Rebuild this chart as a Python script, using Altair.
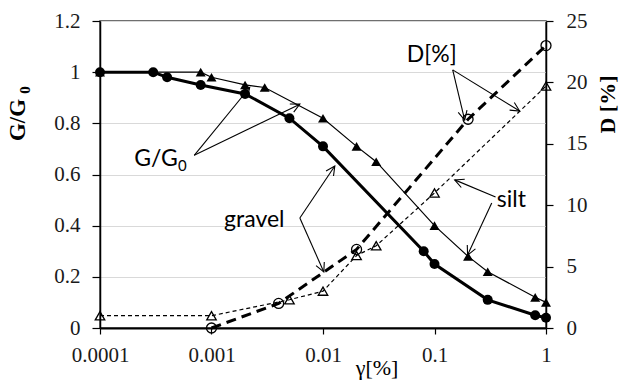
import altair as alt
import numpy as np
import pandas as pd

# ---------------- data ----------------
# G/G0 - gravel (filled circles, thick line)
gamma_gravel_G = [0.0001, 0.0003, 0.0004, 0.0008, 0.002, 0.005, 0.01, 0.08, 0.1, 0.3, 0.8, 1.0]
G_gravel = [1.0, 1.0, 0.98, 0.95, 0.915, 0.82, 0.71, 0.30, 0.25, 0.11, 0.05, 0.04]
# G/G0 - silt (filled triangles, thin line)
gamma_silt_G = [0.0001, 0.0008, 0.001, 0.002, 0.003, 0.01, 0.02, 0.03, 0.1, 0.2, 0.3, 0.8, 1.0]
G_silt = [1.0, 1.0, 0.98, 0.95, 0.94, 0.82, 0.71, 0.65, 0.40, 0.28, 0.22, 0.12, 0.10]
# D [%] - gravel (open circles, thick dashed)
gamma_gravel_D = [0.001, 0.004, 0.02, 0.2, 1.0]
D_gravel = [0.0, 2.0, 6.4, 17.0, 23.0]
# D [%] - silt (open triangles, thin dashed)
gamma_silt_D = [0.0001, 0.001, 0.005, 0.01, 0.02, 0.03, 0.1, 1.0]
D_silt = [1.0, 1.0, 2.3, 3.0, 5.9, 6.7, 11.0, 19.7]

x_ticks = [0.0001, 0.001, 0.01, 0.1, 1]
g_ticks = [0, 0.2, 0.4, 0.6, 0.8, 1.0, 1.2]
d_ticks = [0, 5, 10, 15, 20, 25]

# annotations (in gamma / G-scale units)
ann_text = ["G/G", "gravel", "silt", "D[%]"]
ann_x = [0.000318, 0.00242, 0.489, 0.0944]
ann_y = [0.633, 0.396, 0.474, 1.041]
sub_text = ["0"]
sub_x = [0.000549]
sub_y = [0.615]

arrow_x1 = [0.0007, 0.0007, 0.0062, 0.0062, 0.353, 0.326, 0.1456, 0.1456]
arrow_y1 = [0.675, 0.675, 0.43, 0.43, 0.512, 0.489, 1.009, 1.009]
arrow_x2 = [0.0022, 0.0062, 0.01276, 0.01017, 0.1518, 0.198, 0.1866, 0.58]
arrow_y2 = [0.94, 0.875, 0.633, 0.219, 0.579, 0.285, 0.813, 0.848]

# ---------------- layout ----------------
W, H = 446, 307
SERIF = "Liberation Serif"
SANS = "Lato"

x_scale = alt.Scale(type="log", domain=[0.0001, 1], nice=False)
g_scale = alt.Scale(domain=[0, 1.2], nice=False, zero=True)
d_scale = alt.Scale(domain=[0, 25], nice=False, zero=True)

X_AXIS = alt.Axis(values=x_ticks, format=".4~f", title=None, grid=False, labelFlush=False,
                  domainColor="black", domainWidth=2, tickColor="black", tickWidth=1.2,
                  tickSize=6, labelPadding=10, labelFont=SERIF, labelFontSize=21,
                  labelColor="#1a1a1a")
G_AXIS = alt.Axis(values=g_ticks, format=".1~f", title=None, grid=True,
                  gridColor="#d9d9d9", gridWidth=1.2,
                  domainColor="black", domainWidth=1.5, tickColor="black", tickWidth=1.2,
                  tickSize=8, labelPadding=12, labelFont=SERIF, labelFontSize=21,
                  labelColor="#1a1a1a")
D_AXIS = alt.Axis(orient="right", values=d_ticks, title=None, grid=False,
                  domainColor="black", domainWidth=1.5, tickColor="black", tickWidth=1.2,
                  tickSize=7, labelPadding=13, labelFont=SERIF, labelFontSize=21,
                  labelColor="#1a1a1a")

gG = pd.DataFrame({"gamma": gamma_gravel_G, "G": G_gravel})
sG = pd.DataFrame({"gamma": gamma_silt_G, "G": G_silt})
gD = pd.DataFrame({"gamma": gamma_gravel_D, "D": D_gravel})
sD = pd.DataFrame({"gamma": gamma_silt_D, "D": D_silt})

def gx():
    return alt.X("gamma:Q", scale=x_scale, axis=X_AXIS)

def gy():
    return alt.Y("G:Q", scale=g_scale, axis=G_AXIS)

def dy():
    return alt.Y("D:Q", scale=d_scale, axis=D_AXIS)

gravel_line = alt.Chart(gG).mark_line(color="black", strokeWidth=3).encode(x=gx(), y=gy())
silt_line = alt.Chart(sG).mark_line(color="black", strokeWidth=1.2).encode(x=gx(), y=gy())
gravel_pts = alt.Chart(gG).mark_point(shape="circle", filled=True, size=100, color="black",
                                      opacity=1).encode(x=gx(), y=gy())
silt_pts = alt.Chart(sG).mark_point(shape="triangle-up", filled=True, size=100, color="black",
                                    opacity=1).encode(x=gx(), y=gy())

arr = pd.DataFrame({"x1": arrow_x1, "y1": arrow_y1, "x2": arrow_x2, "y2": arrow_y2})
dxp = (np.log10(arr.x2) - np.log10(arr.x1)) / 4 * W
dyp = -(arr.y2 - arr.y1) / 1.2 * H
arr["ang"] = np.degrees(np.arctan2(dyp, dxp)) % 360

arrows = alt.Chart(arr).mark_rule(color="black", strokeWidth=1.1).encode(
    x=alt.X("x1:Q", scale=x_scale, axis=X_AXIS), x2="x2:Q",
    y=alt.Y("y1:Q", scale=g_scale, axis=G_AXIS), y2="y2:Q")
heads = alt.Chart(arr).mark_point(shape="M -1 -0.5 L 0 0 L -1 0.5", filled=False, size=324,
                                  strokeWidth=1.1, color="black", opacity=1).encode(
    x=alt.X("x2:Q", scale=x_scale, axis=X_AXIS),
    y=alt.Y("y2:Q", scale=g_scale, axis=G_AXIS),
    angle=alt.Angle("ang:Q", scale=None))

ann = pd.DataFrame({"t": ann_text, "ax": ann_x, "ay": ann_y})
ann_marks = alt.Chart(ann).mark_text(font=SANS, fontSize=23, color="black", align="center",
                                     baseline="alphabetic").encode(
    x=alt.X("ax:Q", scale=x_scale, axis=X_AXIS),
    y=alt.Y("ay:Q", scale=g_scale, axis=G_AXIS), text="t:N")
sub = pd.DataFrame({"t": sub_text, "ax": sub_x, "ay": sub_y})
sub_marks = alt.Chart(sub).mark_text(font=SANS, fontSize=15, color="black", align="center",
                                     baseline="alphabetic").encode(
    x=alt.X("ax:Q", scale=x_scale, axis=X_AXIS),
    y=alt.Y("ay:Q", scale=g_scale, axis=G_AXIS), text="t:N")

# axis titles as text
left_title = alt.Chart(pd.DataFrame({"t": ["G/G"]})).mark_text(
    font=SERIF, fontSize=23, fontWeight="bold", angle=270, align="center",
    baseline="alphabetic", color="black").encode(
    x=alt.value(-75), y=alt.value(99), text="t:N")
left_sub = alt.Chart(pd.DataFrame({"t": ["0"]})).mark_text(
    font=SERIF, fontSize=15, fontWeight="bold", angle=270, align="center",
    baseline="alphabetic", color="black").encode(
    x=alt.value(-70), y=alt.value(69), text="t:N")
right_title = alt.Chart(pd.DataFrame({"t": ["D [%]"]})).mark_text(
    font=SERIF, fontSize=22, fontWeight="bold", angle=270, align="center",
    baseline="alphabetic", color="black").encode(
    x=alt.value(515), y=alt.value(83.5), text="t:N")
x_title = alt.Chart(pd.DataFrame({"t": ["γ[%]"]})).mark_text(
    font=SERIF, fontSize=22, align="center", baseline="alphabetic", color="black").encode(
    x=alt.value(277), y=alt.value(354), text="t:N")

gD_line = alt.Chart(gD).mark_line(color="black", strokeWidth=3, strokeDash=[10, 6]).encode(
    x=gx(), y=dy())
sD_line = alt.Chart(sD).mark_line(color="black", strokeWidth=1.2, strokeDash=[4, 3]).encode(
    x=gx(), y=dy())
gD_pts = alt.Chart(gD).mark_point(shape="circle", filled=False, size=100, color="black",
                                  strokeWidth=1.3, opacity=1).encode(x=gx(), y=dy())
sD_pts = alt.Chart(sD).mark_point(shape="triangle-up", filled=False, size=90, color="black",
                                  strokeWidth=1.3, opacity=1).encode(x=gx(), y=dy())

left_group = alt.layer(gravel_line, silt_line, gravel_pts, silt_pts, arrows, heads,
                       ann_marks, sub_marks, left_title, left_sub, x_title)
right_group = alt.layer(gD_line, sD_line, gD_pts, sD_pts, right_title)

chart = alt.layer(left_group, right_group).resolve_scale(y="independent").properties(
    width=W, height=H,
    autosize=alt.AutoSizeParams(type="none"),
    padding={"left": 100, "top": 21, "right": 74, "bottom": 53},
).configure_view(stroke="#404040", strokeWidth=1.5)

chart.save("out.html", embed_options={"renderer": "svg", "actions": False})
